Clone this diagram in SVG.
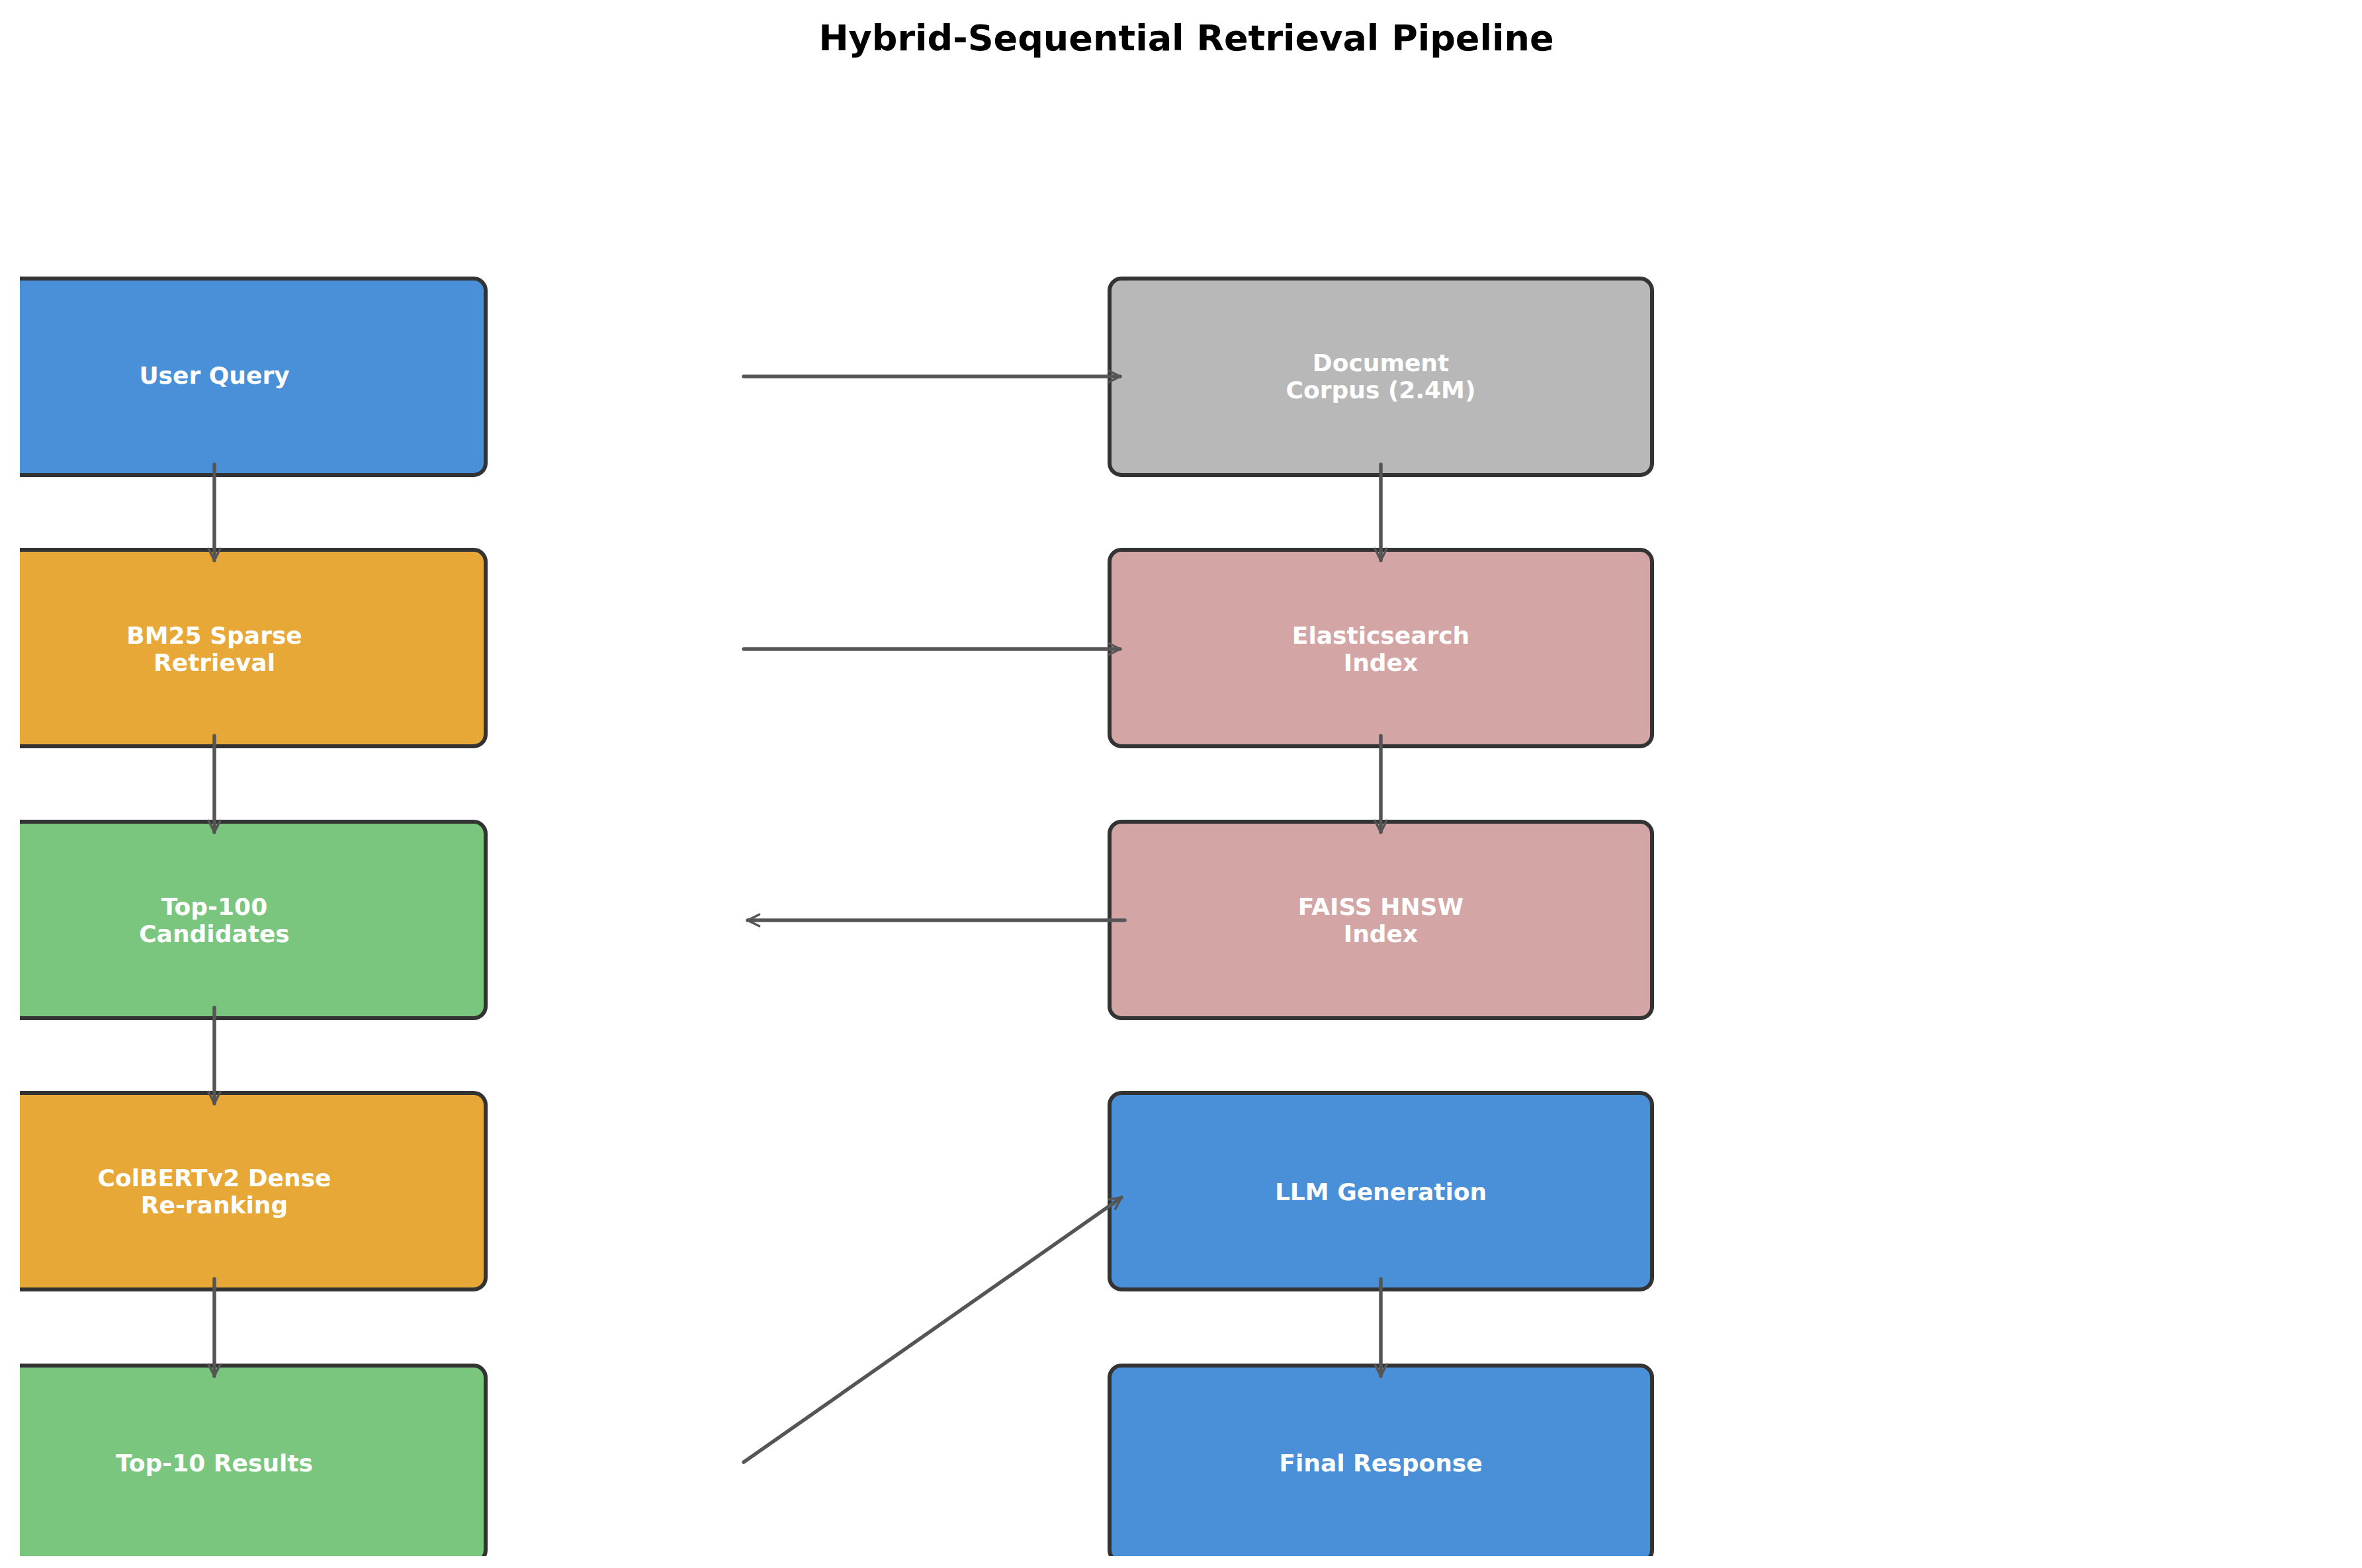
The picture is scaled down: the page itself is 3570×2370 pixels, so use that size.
<svg xmlns="http://www.w3.org/2000/svg" width="3570" height="2370" viewBox="0 0 3570 2370">
<style>
.b{stroke:#333;stroke-width:6}
.t{font-family:"DejaVu Sans",sans-serif;font-weight:bold;font-size:36px;fill:#fff;text-anchor:middle;dominant-baseline:central}
.c{stroke:#555;stroke-width:5.5;fill:none;stroke-linecap:round;marker-end:url(#a)}
</style>
<defs>
<marker id="a" viewBox="0 0 10 10" refX="9" refY="5" markerWidth="4" markerHeight="4" orient="auto" markerUnits="strokeWidth"><path d="M1,1 L9,5 L1,9" fill="none" stroke="#555" stroke-width="1.6" stroke-linecap="round"/></marker>
<clipPath id="cl"><rect x="30" y="0" width="3540" height="2352"/></clipPath>
</defs>
<rect width="3570" height="2370" fill="#fff"/>
<text x="1793" y="57" font-family="DejaVu Sans,sans-serif" font-weight="bold" font-size="54" text-anchor="middle" dominant-baseline="central">Hybrid-Sequential Retrieval Pipeline</text>
<g clip-path="url(#cl)">
<g id="n1"><rect class="b" x="-86" y="421" width="820" height="297" rx="18" fill="#4a90d9"/><text class="t" x="324" y="567">User Query</text></g>
<g id="n2"><rect class="b" x="-86" y="831" width="820" height="297" rx="18" fill="#e8a838"/><text class="t" x="324" y="960">BM25 Sparse</text><text class="t" x="324" y="1001">Retrieval</text></g>
<g id="n3"><rect class="b" x="-86" y="1242" width="820" height="297" rx="18" fill="#7bc67e"/><text class="t" x="324" y="1370">Top-100</text><text class="t" x="324" y="1411">Candidates</text></g>
<g id="n4"><rect class="b" x="-86" y="1652" width="820" height="297" rx="18" fill="#e8a838"/><text class="t" x="324" y="1780">ColBERTv2 Dense</text><text class="t" x="324" y="1821">Re-ranking</text></g>
<g id="n5"><rect class="b" x="-86" y="2064" width="820" height="297" rx="18" fill="#7bc67e"/><text class="t" x="324" y="2211">Top-10 Results</text></g>
<g id="n6"><rect class="b" x="1677" y="421" width="820" height="297" rx="18" fill="#b8b8b8"/><text class="t" x="2087" y="548">Document</text><text class="t" x="2087" y="589">Corpus (2.4M)</text></g>
<g id="n7"><rect class="b" x="1677" y="831" width="820" height="297" rx="18" fill="#d4a5a5"/><text class="t" x="2087" y="960">Elasticsearch</text><text class="t" x="2087" y="1001">Index</text></g>
<g id="n8"><rect class="b" x="1677" y="1242" width="820" height="297" rx="18" fill="#d4a5a5"/><text class="t" x="2087" y="1370">FAISS HNSW</text><text class="t" x="2087" y="1411">Index</text></g>
<g id="n9"><rect class="b" x="1677" y="1652" width="820" height="297" rx="18" fill="#4a90d9"/><text class="t" x="2087" y="1801">LLM Generation</text></g>
<g id="n10"><rect class="b" x="1677" y="2064" width="820" height="297" rx="18" fill="#4a90d9"/><text class="t" x="2087" y="2211">Final Response</text></g>
</g>
<g id="connectors">
<path class="c" d="M324,702 V847"/>
<path class="c" d="M324,1112 V1258"/>
<path class="c" d="M324,1523 V1668"/>
<path class="c" d="M324,1933 V2080"/>
<path class="c" d="M2087,702 V847"/>
<path class="c" d="M2087,1112 V1258"/>
<path class="c" d="M2087,1933 V2080"/>
<path class="c" d="M1124,569 H1693"/>
<path class="c" d="M1124,981 H1693"/>
<path class="c" d="M1700,1391 H1130"/>
<path class="c" d="M1124,2210 L1695,1810"/>
</g>
</svg>
